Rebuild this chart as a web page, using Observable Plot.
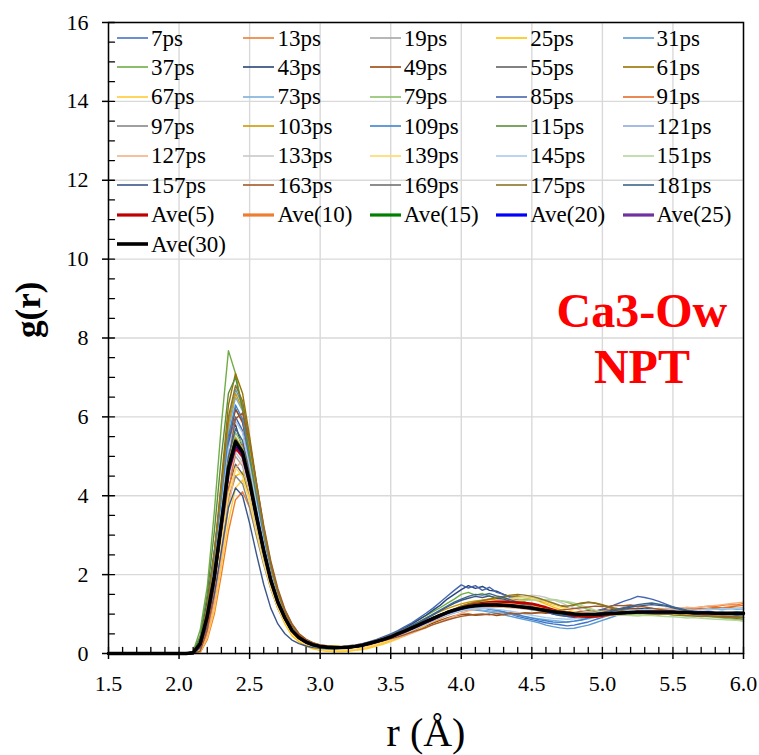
<!DOCTYPE html>
<html><head><meta charset="utf-8">
<script src="https://cdn.jsdelivr.net/npm/d3@7"></script>
<script src="https://cdn.jsdelivr.net/npm/@observablehq/plot@0.6"></script>
<style>
html,body{margin:0;padding:0;background:#fff;}
#wrap{position:relative;width:759px;height:755px;overflow:hidden;font-family:"Liberation Serif","Times New Roman",serif;}
#wrap svg{display:block;}
.item{position:absolute;display:flex;align-items:center;font-family:"Liberation Serif","Times New Roman",serif;font-size:23px;color:#000;white-space:nowrap;line-height:1;}
.item svg{margin-right:3px;flex:none;}
#err{position:absolute;left:200px;top:400px;color:red;font:14px sans-serif;}
</style></head><body><div id="wrap"></div>
<script>
// r grid (Å)
const r = [1.5,2.0,2.05,2.1,2.15,2.2,2.25,2.3,2.35,2.4,2.45,2.5,2.55,2.6,2.65,2.7,2.75,2.8,2.85,2.9,2.95,3.0,
3.05,3.1,3.15,3.2,3.25,3.3,3.35,3.4,3.45,3.5,
3.55,3.6,3.65,3.7,3.75,3.8,3.85,3.9,3.95,4.0,
4.05,4.1,4.15,4.2,4.25,4.3,4.35,4.4,4.45,4.5,
4.55,4.6,4.65,4.7,4.75,4.8,4.85,4.9,4.95,5.0,
5.05,5.1,5.15,5.2,5.25,5.3,5.35,5.4,5.45,5.5,
5.55,5.6,5.65,5.7,5.75,5.8,5.85,5.9,5.95,6.0];

const g7 = [0,0,0, 0,0.22,1.1,2.3,3.8,5.5,6.2,5.9,4.9,3.9,2.9,2.1,1.5,1.0,0.66,0.45,0.31,0.24,0.2,
.17,.14,.16,.15,.2,.22,.25,.33,.35,.44, .49,.6,.63,.75,.8,.92,.95,1.06,1.08,1.14,
1.16,1.15,1.18,1.12,1.1,1.05,1.0,.94,.9,.86, .82,.78,.75,.73,.7,.72,.76,.8,.86,.92,
.97,1.02,1.05,1.1,1.12,1.1,1.08,1.06,1.03,1.0, 1.02,.99,1.01,.98,1.0,1.03,1.01,.99,1.02,1.0];
const g13 = [0,0,0, 0,0.02,0.35,1.0,2.0,3.1,3.9,4.1,3.7,3.0,2.35,1.7,1.25,0.92,0.62,0.45,0.33,0.25,0.2,
.18,.17,.15,.18,.2,.23,.27,.3,.37,.4, .47,.53,.62,.7,.76,.85,.93,.98,1.06,1.1,
1.14,1.18,1.2,1.22,1.21,1.24,1.2,1.19,1.18,1.15, 1.13,1.1,1.08,1.07,1.04,1.05,1.03,1.06,1.05,1.08,
1.07,1.1,1.09,1.12,1.1,1.13,1.11,1.14,1.12,1.15, 1.14,1.17,1.15,1.18,1.2,1.19,1.22,1.24,1.23,1.27];
const g19 = [0,0,0, 0,0.18,0.85,1.8,3.1,4.4,5.0,4.75,4.0,3.15,2.35,1.7,1.2,0.85,0.55,0.38,0.28,0.2,0.17,
.15,.14,.13,.15,.17,.2,.25,.3,.34,.41, .48,.55,.66,.71,.8,.87,.98,1.02,1.09,1.13,
1.2,1.22,1.25,1.21,1.24,1.23,1.2,1.22,1.18,1.17, 1.15,1.12,1.1,1.06,1.05,1.02,1.0,.98,1.0,.99,
1.0,1.03,1.02,1.05,1.04,1.06,1.03,1.05,1.04,1.06, 1.05,1.03,1.04,1.02,1.04,1.01,1.03,1.02,1.0,1.02];
const g25 = [0,0,0, 0,0.1,0.6,1.45,2.65,3.85,4.5,4.6,4.0,3.2,2.4,1.7,1.15,0.75,0.45,0.3,0.18,0.12,0.08,
.06,.05,.07,.06,.09,.12,.17,.22,.26,.33, .4,.47,.55,.62,.72,.8,.88,.97,1.05,1.12,
1.2,1.25,1.3,1.36,1.4,1.44,1.46,1.45,1.42,1.38, 1.32,1.25,1.18,1.12,1.05,1.0,.96,.93,.92,.94,
.96,.98,1.0,1.02,1.04,1.03,1.05,1.04,1.06,1.05, 1.03,1.02,1.04,1.0,1.02,.99,1.01,.98,1.0,.99];
const g31 = [0,0,0, 0,0.25,1.1,2.4,4.1,5.9,6.7,6.3,5.3,4.2,3.1,2.25,1.55,1.05,0.7,0.47,0.33,0.25,0.2,
.17,.16,.15,.17,.19,.23,.27,.32,.38,.43, .52,.58,.66,.74,.82,.9,.96,1.02,1.06,1.1,
1.12,1.1,1.08,1.05,1.02,.98,.94,.9,.86,.82, .78,.72,.68,.65,.63,.64,.68,.72,.78,.84,
.9,.96,1.0,1.04,1.06,1.08,1.07,1.08,1.06,1.05, 1.06,1.04,1.05,1.03,1.06,1.04,1.05,1.03,1.06,1.04];
const g37 = [0,0,0, 0.05,0.6,1.7,3.6,5.8,7.68,7.1,6.2,5.1,3.9,2.8,1.95,1.3,0.85,0.55,0.36,0.25,0.18,0.14,
.12,.11,.13,.14,.17,.21,.26,.33,.4,.48, .56,.66,.76,.86,.96,1.06,1.16,1.27,1.38,1.5,
1.55,1.48,1.52,1.45,1.42,1.36,1.33,1.28,1.22,1.18, 1.14,1.1,1.05,1.02,.98,.96,.94,.95,.93,.96,
.98,1.0,1.02,1.05,1.04,1.06,1.08,1.06,1.05,1.04, 1.02,1.0,.98,.97,.95,.94,.92,.9,.88,.86];
const g43 = [0,0,0, 0.02,0.4,1.35,2.6,4.1,5.5,5.8,5.2,4.3,3.3,2.45,1.75,1.2,0.85,0.55,0.38,0.27,0.2,0.16,
.14,.13,.15,.14,.18,.2,.27,.33,.4,.47, .56,.64,.75,.86,.97,1.1,1.22,1.38,1.5,1.62,
1.72,1.65,1.7,1.6,1.58,1.5,1.44,1.36,1.3,1.24, 1.16,1.1,1.04,.98,.94,.92,.9,.92,.95,.98,
1.02,1.06,1.1,1.12,1.15,1.13,1.14,1.1,1.08,1.06, 1.04,1.02,1.0,1.01,.99,1.0,.98,1.0,.99,1.0];
const g49 = [0,0,0, 0,0.2,0.95,2.1,3.7,5.3,6.2,5.85,5.0,3.95,2.95,2.1,1.45,1.0,0.68,0.45,0.33,0.25,0.2,
.18,.16,.17,.18,.2,.22,.26,.3,.34,.38, .44,.5,.56,.63,.7,.77,.84,.9,.95,.99,
1.0,.97,.98,1.0,.96,.99,1.02,1.0,1.03,1.02, 1.04,1.02,1.05,1.03,1.06,1.04,1.07,1.1,1.08,1.12,
1.1,1.14,1.12,1.15,1.13,1.1,1.12,1.08,1.1,1.06, 1.05,1.02,1.0,.98,.96,.95,.93,.92,.9,.91];
const g55 = [0,0,0, 0,0.15,0.8,1.7,3.0,4.2,4.8,4.55,3.9,3.05,2.3,1.65,1.15,0.8,0.52,0.36,0.26,0.2,0.16,
.15,.15,.14,.16,.19,.2,.26,.3,.37,.41, .49,.58,.64,.73,.79,.9,.95,1.05,1.08,1.16,
1.18,1.22,1.2,1.25,1.22,1.2,1.23,1.18,1.2,1.14, 1.12,1.08,1.07,1.03,1.04,1.0,1.01,.98,1.0,1.01,
1.03,1.01,1.04,1.02,1.06,1.04,1.03,1.06,1.04,1.03, 1.05,1.03,1.02,1.04,1.01,1.03,1.0,1.02,1.01,1.03];
const g61 = [0,0,0, 0,0.3,1.2,2.55,4.4,6.3,7.1,6.6,5.5,4.3,3.2,2.3,1.6,1.1,0.75,0.5,0.36,0.27,0.22,
.2,.19,.18,.2,.22,.25,.28,.33,.38,.43, .5,.57,.64,.72,.8,.88,.95,1.04,1.12,1.2,
1.26,1.3,1.35,1.38,1.42,1.45,1.44,1.46,1.42,1.4, 1.35,1.3,1.24,1.2,1.18,1.22,1.26,1.3,1.28,1.24,
1.18,1.14,1.12,1.1,1.12,1.1,1.13,1.11,1.14,1.12, 1.1,1.13,1.11,1.14,1.12,1.15,1.13,1.16,1.14,1.15];
const g67 = [0,0,0, 0,0.03,0.4,1.1,2.2,3.35,4.2,4.4,3.95,3.2,2.45,1.75,1.2,0.82,0.52,0.34,0.22,0.14,0.09,
.06,.05,.04,.06,.08,.1,.14,.19,.24,.3, .37,.45,.53,.62,.72,.82,.92,1.02,1.1,1.18,
1.24,1.3,1.35,1.38,1.4,1.38,1.36,1.32,1.28,1.22, 1.16,1.1,1.05,1.0,.96,.94,.92,.94,.96,.98,
1.0,1.02,1.0,1.03,1.01,1.04,1.02,1.0,1.03,1.01, .99,1.01,.98,1.0,.97,.99,.96,.98,.97,.96];
const g73 = [0,0,0, 0,0.22,1.05,2.3,3.95,5.65,6.5,6.15,5.2,4.1,3.05,2.2,1.55,1.05,0.7,0.47,0.33,0.24,0.19,
.16,.15,.14,.16,.17,.2,.24,.29,.34,.4, .47,.54,.62,.7,.77,.85,.92,.98,1.04,1.08,
1.1,1.12,1.1,1.08,1.06,1.04,1.0,.97,.93,.9, .88,.86,.84,.82,.8,.82,.85,.88,.92,.96,
1.0,1.03,1.06,1.08,1.1,1.12,1.1,1.12,1.1,1.08, 1.1,1.08,1.1,1.12,1.1,1.13,1.11,1.14,1.12,1.13];
const g79 = [0,0,0, 0,0.2,0.95,2.0,3.45,4.9,5.6,5.3,4.5,3.55,2.65,1.9,1.3,0.9,0.6,0.4,0.29,0.22,0.18,
.16,.15,.17,.16,.19,.21,.26,.3,.36,.4, .47,.54,.6,.68,.75,.84,.92,1.0,1.08,1.14,
1.18,1.22,1.25,1.28,1.3,1.33,1.35,1.36,1.38,1.36, 1.38,1.36,1.37,1.34,1.3,1.24,1.18,1.12,1.06,1.02,
1.0,.98,.97,.99,.98,1.0,.99,1.01,1.0,.98, .97,.95,.96,.94,.93,.92,.9,.88,.86,.82];
const g85 = [0,0,0, 0,0.21,1.0,2.2,3.7,5.3,6.0,5.65,4.8,3.8,2.85,2.05,1.45,1.0,0.68,0.47,0.34,0.26,0.2,
.17,.16,.17,.19,.21,.25,.3,.36,.43,.5, .58,.68,.78,.9,1.02,1.15,1.3,1.45,1.6,1.74,
1.66,1.72,1.6,1.68,1.55,1.5,1.42,1.35,1.28,1.2, 1.12,1.06,1.0,.96,.94,.93,.96,1.0,1.06,1.12,
1.18,1.25,1.32,1.38,1.45,1.42,1.38,1.32,1.25,1.18, 1.12,1.08,1.04,1.02,1.0,.98,.99,.97,.98,.96];
const g91 = [0,0,0, 0,0.05,0.5,1.4,2.65,4.1,5.1,5.3,4.7,3.85,2.95,2.15,1.5,1.05,0.7,0.48,0.35,0.26,0.21,
.18,.17,.16,.17,.19,.22,.25,.3,.35,.4, .46,.53,.6,.68,.76,.84,.9,.97,1.03,1.08,
1.12,1.15,1.17,1.18,1.2,1.19,1.21,1.2,1.18,1.17, 1.15,1.12,1.1,1.08,1.06,1.05,1.04,1.05,1.04,1.06,
1.05,1.07,1.06,1.08,1.07,1.09,1.08,1.1,1.09,1.11, 1.1,1.12,1.14,1.13,1.15,1.17,1.16,1.18,1.2,1.22];
const g97 = [0,0,0, 0,0.15,0.75,1.6,2.8,3.95,4.5,4.3,3.7,2.95,2.25,1.65,1.15,0.8,0.53,0.37,0.27,0.21,0.17,
.15,.16,.15,.17,.19,.22,.26,.31,.36,.43, .5,.56,.64,.72,.8,.88,.96,1.02,1.08,1.12,
1.16,1.2,1.22,1.2,1.23,1.21,1.2,1.18,1.16,1.14, 1.1,1.08,1.05,1.03,1.01,1.0,.98,.99,.98,1.0,
1.02,1.01,1.03,1.04,1.03,1.05,1.04,1.06,1.04,1.05, 1.03,1.04,1.02,1.03,1.01,1.02,1.03,1.01,1.02,1.0];
const g103 = [0,0,0, 0,0.25,1.15,2.45,4.1,5.8,6.6,6.2,5.2,4.1,3.05,2.2,1.5,1.02,0.68,0.46,0.32,0.24,0.19,
.16,.15,.16,.17,.2,.23,.28,.34,.39,.46, .54,.62,.7,.8,.9,.98,1.06,1.14,1.2,1.26,
1.3,1.33,1.35,1.38,1.36,1.38,1.35,1.33,1.3,1.26, 1.2,1.14,1.08,1.03,1.0,.98,.97,.99,1.0,1.02,
1.04,1.03,1.05,1.04,1.06,1.05,1.07,1.05,1.06,1.04, 1.05,1.03,1.04,1.02,1.03,1.01,1.02,1.0,1.01,.99];
const g109 = [0,0,0, 0,0.2,1.0,2.25,3.85,5.5,6.3,5.95,5.0,3.95,2.9,2.05,1.4,0.95,0.62,0.42,0.3,0.23,0.18,
.15,.14,.13,.15,.17,.19,.23,.28,.33,.38, .45,.52,.6,.68,.76,.84,.92,.99,1.05,1.1,
1.14,1.16,1.15,1.13,1.1,1.06,1.02,.98,.94,.9, .86,.83,.8,.79,.8,.82,.85,.9,.95,1.0,
1.04,1.08,1.1,1.12,1.1,1.11,1.09,1.08,1.06,1.05, 1.04,1.03,1.05,1.02,1.04,1.03,1.01,1.03,1.02,1.04];
const g115 = [0,0,0, 0.03,0.45,1.5,3.1,5.0,6.6,7.0,6.2,5.0,3.8,2.75,1.95,1.35,0.9,0.6,0.4,0.28,0.21,0.17,
.14,.13,.14,.15,.18,.21,.25,.31,.36,.42, .49,.57,.65,.74,.82,.9,.98,1.06,1.12,1.17,
1.2,1.22,1.24,1.25,1.23,1.22,1.2,1.17,1.14,1.11, 1.08,1.06,1.03,1.01,.99,.98,.97,.98,.99,1.0,
1.01,1.02,1.04,1.03,1.05,1.04,1.06,1.05,1.04,1.03, 1.02,1.01,1.0,.98,.97,.96,.95,.94,.93,.92];
const g121 = [0,0,0, 0,0.17,0.85,1.85,3.2,4.55,5.2,4.95,4.2,3.3,2.5,1.8,1.25,0.86,0.57,0.39,0.28,0.21,0.17,
.15,.14,.15,.16,.18,.21,.25,.3,.35,.41, .48,.55,.63,.71,.79,.87,.94,1.01,1.07,1.12,
1.16,1.18,1.2,1.21,1.2,1.19,1.18,1.16,1.14,1.12, 1.1,1.07,1.05,1.03,1.01,1.0,.99,.98,.99,1.0,
1.01,1.03,1.04,1.05,1.06,1.07,1.06,1.07,1.06,1.05, 1.06,1.05,1.06,1.04,1.05,1.04,1.03,1.04,1.03,1.02];
const g127 = [0,0,0, 0,0.04,0.45,1.25,2.4,3.7,4.7,4.9,4.35,3.55,2.7,1.95,1.35,0.95,0.65,0.45,0.32,0.24,0.19,
.16,.15,.14,.14,.16,.18,.21,.25,.29,.34, .39,.45,.51,.58,.65,.73,.8,.88,.95,1.02,
1.08,1.12,1.15,1.17,1.18,1.17,1.16,1.15,1.13,1.12, 1.1,1.08,1.07,1.05,1.04,1.03,1.04,1.03,1.05,1.06,
1.07,1.06,1.08,1.1,1.09,1.11,1.1,1.12,1.14,1.13, 1.15,1.17,1.16,1.18,1.2,1.22,1.24,1.26,1.28,1.3];
const g133 = [0,0,0, 0,0.17,0.85,1.8,3.15,4.45,5.1,4.85,4.1,3.25,2.45,1.75,1.22,0.85,0.56,0.38,0.28,0.21,0.17,
.15,.15,.16,.17,.19,.22,.27,.32,.37,.43, .5,.57,.64,.72,.8,.88,.96,1.03,1.09,1.14,
1.18,1.22,1.26,1.3,1.33,1.36,1.4,1.42,1.45,1.48, 1.46,1.42,1.36,1.3,1.22,1.15,1.1,1.06,1.03,1.01,
1.0,1.02,1.01,1.03,1.02,1.04,1.03,1.02,1.04,1.03, 1.02,1.03,1.01,1.02,1.0,1.01,.99,1.0,.98,.99];
const g139 = [0,0,0, 0,0.12,0.7,1.55,2.8,4.05,4.7,4.5,3.85,3.05,2.3,1.65,1.15,0.78,0.5,0.33,0.22,0.15,0.11,
.08,.07,.08,.09,.11,.14,.18,.23,.29,.35, .42,.5,.58,.67,.76,.85,.94,1.02,1.1,1.16,
1.22,1.26,1.3,1.32,1.35,1.37,1.38,1.4,1.42,1.4, 1.36,1.3,1.24,1.18,1.12,1.06,1.02,.99,.97,.96,
.97,.98,1.0,1.01,1.02,1.0,1.02,1.01,1.03,1.0, 1.01,.99,1.0,.98,.99,.97,.98,.96,.97,.98];
const g145 = [0,0,0, 0,0.2,0.98,2.15,3.65,5.2,5.9,5.6,4.75,3.75,2.8,2.0,1.4,0.95,0.63,0.43,0.31,0.23,0.18,
.15,.14,.15,.16,.18,.2,.24,.29,.34,.39, .45,.52,.59,.66,.74,.82,.9,.97,1.03,1.08,
1.12,1.14,1.15,1.14,1.12,1.1,1.07,1.04,1.0,.97, .94,.91,.89,.88,.87,.88,.9,.93,.96,.99,
1.02,1.05,1.07,1.09,1.1,1.11,1.12,1.11,1.12,1.1, 1.11,1.12,1.1,1.11,1.13,1.12,1.14,1.13,1.15,1.14];
const g151 = [0,0,0, 0,0.19,0.92,2.0,3.4,4.85,5.5,5.2,4.45,3.5,2.6,1.87,1.3,0.9,0.6,0.41,0.3,0.22,0.18,
.16,.15,.16,.17,.19,.22,.26,.31,.37,.43, .5,.57,.64,.72,.8,.88,.96,1.04,1.1,1.15,
1.19,1.22,1.25,1.27,1.3,1.32,1.33,1.35,1.34,1.36, 1.35,1.37,1.36,1.34,1.32,1.28,1.22,1.16,1.1,1.05,
1.02,.99,.97,.96,.95,.97,.96,.95,.94,.93, .92,.9,.91,.89,.88,.87,.86,.85,.84,.82];
const g157 = [0,0,0, 0,0.14,0.7,1.5,2.6,3.7,4.2,4.0,3.3,2.5,1.75,1.15,0.75,0.5,0.34,0.25,0.19,0.15,0.13,
.12,.12,.13,.14,.17,.2,.25,.31,.37,.44, .52,.6,.69,.78,.88,.98,1.08,1.18,1.27,1.35,
1.4,1.45,1.42,1.46,1.4,1.38,1.32,1.28,1.22,1.16, 1.1,1.05,1.0,.97,.95,.94,.95,.97,1.0,1.03,
1.06,1.1,1.14,1.18,1.2,1.22,1.24,1.22,1.2,1.16, 1.12,1.08,1.05,1.03,1.01,1.0,.98,.99,.97,.98];
const g163 = [0,0,0, 0,0.06,0.6,1.7,3.2,4.9,5.95,6.1,5.35,4.3,3.25,2.35,1.65,1.12,0.75,0.5,0.36,0.27,0.22,
.19,.18,.17,.18,.2,.22,.25,.29,.33,.37, .42,.48,.54,.6,.66,.73,.79,.85,.9,.94,
.97,.99,1.0,.98,1.01,.99,1.02,1.0,1.03,1.01, 1.04,1.06,1.08,1.1,1.12,1.14,1.16,1.18,1.2,1.19,
1.2,1.22,1.21,1.23,1.2,1.18,1.15,1.12,1.1,1.07, 1.05,1.02,1.0,.98,.96,.95,.94,.93,.92,.92];
const g169 = [0,0,0, 0,0.18,0.9,1.95,3.35,4.75,5.4,5.1,4.35,3.45,2.6,1.85,1.28,0.88,0.58,0.4,0.29,0.22,0.18,
.16,.15,.16,.17,.19,.22,.26,.31,.36,.42, .49,.56,.64,.72,.8,.88,.96,1.03,1.09,1.14,
1.18,1.2,1.22,1.23,1.22,1.21,1.2,1.19,1.17,1.15, 1.12,1.1,1.07,1.05,1.03,1.02,1.01,1.0,1.01,1.02,
1.03,1.04,1.05,1.06,1.07,1.06,1.07,1.06,1.05,1.06, 1.05,1.04,1.05,1.03,1.04,1.03,1.02,1.03,1.02,1.03];
const g175 = [0,0,0, 0,0.26,1.2,2.55,4.25,6.0,6.8,6.4,5.4,4.25,3.15,2.25,1.55,1.05,0.7,0.47,0.33,0.25,0.2,
.17,.16,.17,.18,.2,.23,.27,.32,.38,.44, .51,.58,.66,.74,.82,.9,.98,1.06,1.13,1.2,
1.25,1.3,1.34,1.38,1.42,1.45,1.48,1.5,1.48,1.45, 1.4,1.34,1.28,1.22,1.2,1.24,1.28,1.3,1.27,1.22,
1.16,1.12,1.08,1.05,1.03,1.01,1.0,.99,1.0,.98, .97,.96,.95,.94,.95,.93,.92,.91,.92,.9];
const g181 = [0,0,0, 0,0.19,0.95,2.05,3.5,5.0,5.7,5.4,4.55,3.6,2.7,1.95,1.35,0.92,0.62,0.42,0.31,0.23,0.18,
.15,.14,.15,.17,.19,.22,.27,.33,.39,.46, .54,.62,.71,.8,.9,1.0,1.1,1.2,1.3,1.38,
1.45,1.5,1.48,1.52,1.46,1.42,1.36,1.3,1.24,1.18, 1.12,1.07,1.02,.98,.96,.95,.96,.98,1.01,1.04,
1.08,1.12,1.16,1.2,1.24,1.26,1.28,1.25,1.22,1.18, 1.14,1.1,1.07,1.05,1.03,1.02,1.0,1.01,.99,1.0];

// running averages
const ave5 = [0,0,0, 0.02,0.22,0.9,1.9,3.25,4.6,5.22,5.0,4.3,3.45,2.62,1.88,1.32,0.92,0.6,0.42,0.3,0.23,0.18,
.16,.15,.15,.16,.18,.21,.25,.3,.35,.41, .48,.55,.63,.71,.79,.87,.95,1.03,1.1,1.16,
1.21,1.25,1.28,1.3,1.31,1.31,1.3,1.29,1.28,1.26, 1.22,1.17,1.11,1.05,1.0,.96,.94,.93,.94,.96,
.99,1.01,1.03,1.04,1.05,1.05,1.06,1.05,1.06,1.05, 1.04,1.04,1.03,1.03,1.02,1.02,1.01,1.02,1.01,1.01];
const ave10 = [0,0,0, 0.02,0.26,0.98,2.0,3.36,4.78,5.45,5.15,4.38,3.46,2.6,1.85,1.3,0.9,0.58,0.4,0.29,0.22,0.18,
.16,.15,.15,.16,.18,.21,.26,.31,.36,.42, .5,.57,.65,.73,.81,.89,.97,1.04,1.11,1.16,
1.2,1.23,1.25,1.26,1.26,1.25,1.24,1.22,1.2,1.18, 1.15,1.11,1.08,1.05,1.02,1.0,.98,.98,.98,.99,
1.01,1.02,1.03,1.04,1.05,1.05,1.06,1.05,1.05,1.05, 1.04,1.04,1.04,1.03,1.03,1.02,1.02,1.02,1.02,1.02];
const ave15 = [0,0,0, 0.02,0.26,0.97,1.98,3.33,4.74,5.41,5.13,4.36,3.45,2.6,1.85,1.3,0.9,0.58,0.4,0.29,0.22,0.18,
.16,.15,.15,.16,.18,.21,.26,.31,.36,.42, .5,.57,.65,.73,.81,.89,.97,1.04,1.1,1.15,
1.19,1.22,1.24,1.24,1.24,1.23,1.22,1.2,1.18,1.16, 1.13,1.1,1.07,1.04,1.02,1.0,.99,.99,.99,1.0,
1.01,1.02,1.03,1.04,1.05,1.05,1.05,1.05,1.05,1.05, 1.04,1.04,1.03,1.03,1.03,1.02,1.02,1.02,1.02,1.02];
const ave20 = [0,0,0, 0.02,0.24,0.93,1.93,3.27,4.64,5.3,5.06,4.34,3.46,2.61,1.86,1.31,0.91,0.59,0.4,0.29,0.22,0.18,
.16,.15,.15,.16,.18,.21,.26,.3,.36,.42, .49,.57,.64,.72,.8,.88,.96,1.03,1.09,1.14,
1.18,1.21,1.22,1.23,1.23,1.22,1.21,1.19,1.17,1.15, 1.12,1.09,1.06,1.04,1.02,1.0,.99,.99,.99,1.0,
1.01,1.02,1.03,1.04,1.05,1.05,1.05,1.05,1.05,1.05, 1.04,1.04,1.03,1.03,1.03,1.02,1.02,1.02,1.02,1.02];
const ave25 = [0,0,0, 0.02,0.25,0.94,1.94,3.29,4.68,5.34,5.08,4.35,3.45,2.6,1.85,1.3,0.9,0.58,0.4,0.29,0.22,0.18,
.16,.15,.15,.16,.18,.21,.26,.31,.36,.42, .5,.57,.65,.73,.81,.89,.97,1.04,1.1,1.15,
1.19,1.21,1.23,1.23,1.23,1.22,1.21,1.19,1.17,1.15, 1.12,1.09,1.06,1.04,1.02,1.0,.99,.99,.99,1.0,
1.01,1.02,1.03,1.04,1.05,1.05,1.05,1.05,1.05,1.05, 1.04,1.04,1.03,1.03,1.03,1.02,1.02,1.02,1.02,1.02];
const ave30 = [0,0,0, 0.02,0.25,0.95,1.95,3.3,4.7,5.37,5.1,4.35,3.45,2.6,1.85,1.3,0.9,0.58,0.4,0.29,0.22,0.18,
.16,.15,.15,.16,.18,.21,.26,.31,.36,.42, .5,.57,.65,.73,.81,.89,.97,1.04,1.1,1.15,
1.19,1.21,1.23,1.23,1.23,1.22,1.21,1.19,1.17,1.15, 1.12,1.09,1.06,1.04,1.02,1.0,.99,.99,.99,1.0,
1.01,1.02,1.03,1.04,1.05,1.05,1.05,1.05,1.05,1.05, 1.04,1.04,1.03,1.03,1.03,1.02,1.02,1.02,1.02,1.02];

const seriesNames = ["7ps","13ps","19ps","25ps","31ps","37ps","43ps","49ps","55ps","61ps",
 "67ps","73ps","79ps","85ps","91ps","97ps","103ps","109ps","115ps","121ps",
 "127ps","133ps","139ps","145ps","151ps","157ps","163ps","169ps","175ps","181ps"];
const seriesValues = [g7,g13,g19,g25,g31,g37,g43,g49,g55,g61,g67,g73,g79,g85,g91,g97,g103,g109,g115,g121,
 g127,g133,g139,g145,g151,g157,g163,g169,g175,g181];
const seriesColors = ["#4472C4","#ED7D31","#A5A5A5","#FFC000","#5B9BD5",
 "#70AD47","#264478","#9E480E","#636363","#997300",
 "#FFCC33","#7CAFDD","#8CC168","#4466B0","#E46C2A",
 "#878787","#CC9A00","#3E84CF","#5B8C3A","#8FAADC",
 "#F4B183","#C9C9C9","#FFD966","#A9CBEA","#B4D79C",
 "#3B5688","#A0592A","#717171","#8C7326","#3E6488"];
const aveNames = ["Ave(5)","Ave(10)","Ave(15)","Ave(20)","Ave(25)","Ave(30)"];
const aveValues = [ave5,ave10,ave15,ave20,ave25,ave30];
const aveColors = ["#C00000","#ED7D31","#008000","#0000FF","#7030A0","#000000"];

const xTickLabels = [1.5,2.0,2.5,3.0,3.5,4.0,4.5,5.0,5.5,6.0];
const yTickLabels = [0,2,4,6,8,10,12,14,16];
const noteText = ["Ca3-Ow","NPT"];
const noteR = [5.28,5.28];
const noteG = [8.27,6.87];

const FONT = '"Liberation Serif","Times New Roman",serif';
const wrap = document.getElementById("wrap");

const bad = [...seriesValues, ...aveValues].map((a,i)=>[i,a.length]).filter(d=>d[1]!==r.length);

const rows = [];
seriesValues.forEach((arr,i)=>arr.forEach((v,j)=>rows.push({r:r[j], g:v, s:seriesNames[i]})));
const aveRows = aveValues.map(arr=>arr.map((v,j)=>({r:r[j], g:v})));

const xMinor = d3.range(15,61).map(d=>d/10);
const yMinor = d3.range(0,33).map(d=>d/2);
const tickShape = {draw(ctx,l){ctx.moveTo(0,0);ctx.lineTo(0,-l);}};

const chart = Plot.plot({
  width: 759, height: 755,
  marginLeft: 108, marginRight: 16, marginTop: 22, marginBottom: 102,
  style: {fontFamily: FONT, fontSize: "22px", color: "#000", background: "#fff"},
  x: {domain: [1.5, 6]},
  y: {domain: [0, 16]},
  color: {domain: seriesNames, range: seriesColors},
  marks: [
    Plot.gridX(xTickLabels, {stroke: "#d9d9d9", strokeOpacity: 1, strokeWidth: 1.4}),
    Plot.gridY(yTickLabels, {stroke: "#d9d9d9", strokeOpacity: 1, strokeWidth: 1.4}),
    Plot.line(rows, {x: "r", y: "g", z: "s", stroke: "s", strokeWidth: 1.4}),
    ...aveRows.map((d,i)=>Plot.line(d, {x: "r", y: "g", stroke: aveColors[i], strokeWidth: i===5 ? 3.4 : 2.6})),
    Plot.frame({stroke: "#000", strokeWidth: 1.5}),
    Plot.axisX(xTickLabels, {tickSize: 6, tickPadding: 16, tickFormat: d3.format(".1f"), label: null, strokeWidth: 1.5, fontFamily: FONT}),
    Plot.axisY(yTickLabels, {tickSize: 6, tickPadding: 14, tickFormat: d=>String(d), label: null, strokeWidth: 1.5, fontFamily: FONT}),
    Plot.vector(xMinor, {x: d=>d, y: 0, length: 6, rotate: 0, anchor: "start", shape: tickShape, stroke: "#000", strokeWidth: 1.3}),
    Plot.vector(yMinor, {x: 1.5, y: d=>d, length: 6, rotate: 90, anchor: "start", shape: tickShape, stroke: "#000", strokeWidth: 1.3}),
    Plot.text(["r (Å)"], {frameAnchor: "bottom", dy: 92, lineAnchor: "bottom", fontSize: 40, fill: "#000", fontFamily: FONT}),
    Plot.text(["g(r)"], {frameAnchor: "left", dx: -80, rotate: -90, fontSize: 35, fontWeight: "bold", fill: "#000", fontFamily: FONT}),
    Plot.text(noteText, {x: (d,i)=>noteR[i], y: (d,i)=>noteG[i], text: d=>d, lineAnchor: "bottom", fontSize: 48, fontWeight: "bold", fill: "#FF0000", fontFamily: FONT})
  ]
});
wrap.appendChild(chart);

// legend inside the plot area
const legendItems = [
  ...seriesNames.map((n,i)=>({name:n, color:seriesColors[i], w:1.6})),
  ...aveNames.map((n,i)=>({name:n, color:aveColors[i], w: i===5 ? 3.6 : 3.2}))
];
legendItems.forEach((it,k)=>{
  const col = k % 5, row = Math.floor(k / 5);
  const div = document.createElement("div");
  div.className = "item";
  div.style.left = (117 + col*126.4) + "px";
  div.style.top = (38 + row*29.43 - 12) + "px";
  div.style.height = "24px";
  div.innerHTML = `<svg width="31" height="8"><line x1="0" x2="31" y1="4" y2="4" stroke="${it.color}" stroke-width="${it.w}"/></svg><span>${it.name}</span>`;
  wrap.appendChild(div);
});
if (bad.length) {
  const e = document.createElement("div"); e.id = "err";
  e.textContent = "length mismatch: " + JSON.stringify(bad) + " r=" + r.length;
  wrap.appendChild(e);
}
</script></body></html>
